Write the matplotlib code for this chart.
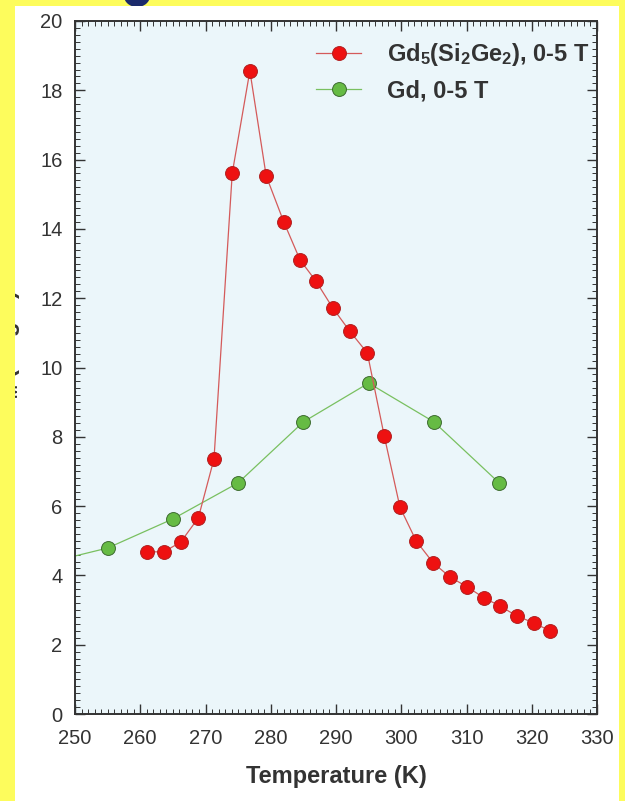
#!/usr/bin/env python3
from __future__ import annotations

import matplotlib

matplotlib.use("Agg")
import matplotlib.pyplot as plt
from matplotlib.patches import Ellipse, Rectangle
from matplotlib.ticker import MultipleLocator

# Gd5(Si2Ge2), 0-5 T
gdsige_temp = [261.0, 263.6, 266.2, 268.9, 271.3, 274.1, 276.8, 279.3, 282.0, 284.5,
               286.9, 289.5, 292.1, 294.8, 297.4, 299.8, 302.3, 304.9, 307.5, 310.1,
               312.7, 315.1, 317.7, 320.3, 322.8]
gdsige_ds = [4.68, 4.68, 4.96, 5.66, 7.36, 15.61, 18.56, 15.53, 14.20, 13.10,
             12.50, 11.72, 11.05, 10.42, 8.02, 5.97, 4.99, 4.36, 3.95, 3.67,
             3.35, 3.12, 2.83, 2.63, 2.40]

# Gd, 0-5 T
gd_temp = [245, 255, 265, 275, 285, 295, 305, 315]
gd_ds = [4.33, 4.79, 5.63, 6.67, 8.43, 9.55, 8.43, 6.67]

x_ticks = [250, 260, 270, 280, 290, 300, 310, 320, 330]
y_ticks = [0, 2, 4, 6, 8, 10, 12, 14, 16, 18, 20]

labels = [r"Gd$_5$(Si$_2$Ge$_2$), 0-5 T", "Gd, 0-5 T"]

W, H = 625, 801


def main() -> None:
    plt.rcParams["font.family"] = ["Liberation Sans", "DejaVu Sans"]
    plt.rcParams["mathtext.fontset"] = "custom"
    plt.rcParams["mathtext.rm"] = "Liberation Sans:bold"
    plt.rcParams["mathtext.default"] = "rm"

    fig = plt.figure(figsize=(W / 100, H / 100), dpi=100)
    fig.patch.set_facecolor("#fdfc5c")

    # bottom of a title glyph peeking out above the white slide panel
    fig.add_artist(Ellipse((137 / W, 1 + 4 / H), 26 / W, 22 / H,
                           transform=fig.transFigure, facecolor="#1b2a6b",
                           edgecolor="none", zorder=-3))
    fig.add_artist(Rectangle((15 / W, 0), (619 - 15) / W, 1 - 6 / H,
                             transform=fig.transFigure, facecolor="white",
                             edgecolor="none", zorder=-2))

    ax = fig.add_axes([75 / W, 1 - 714 / H, (597 - 75) / W, (714 - 21) / H])
    ax.set_facecolor("#ebf6fa")

    ax.plot(gdsige_temp, gdsige_ds, color="#d45a5a", lw=0.9, marker="o",
            markersize=10, markerfacecolor="#ee1111", markeredgecolor="#b02020",
            markeredgewidth=0.7, label=labels[0], zorder=3)
    ax.plot(gd_temp, gd_ds, color="#79c060", lw=0.9, marker="o",
            markersize=10, markerfacecolor="#66bb44", markeredgecolor="#3d6b30",
            markeredgewidth=0.7, label=labels[1], zorder=2)

    ax.set_xlim(250, 330)
    ax.set_ylim(0, 20)
    ax.set_xticks(x_ticks)
    ax.set_yticks(y_ticks)
    ax.xaxis.set_minor_locator(MultipleLocator(1))
    ax.yaxis.set_minor_locator(MultipleLocator(0.2))
    ax.tick_params(which="both", direction="in", top=True, right=True,
                   colors="#333333", labelcolor="#333333")
    ax.tick_params(which="major", length=7, width=1.0, labelsize=14.5)
    ax.tick_params(axis="x", which="major", pad=11)
    ax.tick_params(axis="y", which="major", pad=9)
    ax.tick_params(which="minor", length=3.5, width=0.7)
    for spine in ax.spines.values():
        spine.set_linewidth(1.4)
        spine.set_color("#333333")

    ax.set_xlabel("Temperature (K)", fontsize=17, fontweight="bold", color="#333333")
    ax.xaxis.set_label_coords(0.5, -0.073)
    ax.set_ylabel(r"$-\Delta$S$_M$ (J/kg K)", fontsize=17, fontweight="bold",
                  color="#333333")
    ax.yaxis.set_label_coords((22 - 75) / (597 - 75), 0.5)

    ax.legend(loc="upper right", bbox_to_anchor=(1.004, 0.985), frameon=False,
              prop={"weight": "bold", "size": 17}, handlelength=1.9,
              handletextpad=1.1, labelspacing=0.5, borderaxespad=0.0,
              borderpad=0.4, labelcolor="#333333")

    # yellow margin covers the left edge of the y label, as in the slide
    fig.add_artist(Rectangle((0, 0), 15 / W, 1, transform=fig.transFigure,
                             facecolor="#fdfc5c", edgecolor="none", zorder=5))

    fig.savefig("out.png", dpi=100, facecolor=fig.get_facecolor())
    plt.close(fig)


if __name__ == "__main__":
    main()
